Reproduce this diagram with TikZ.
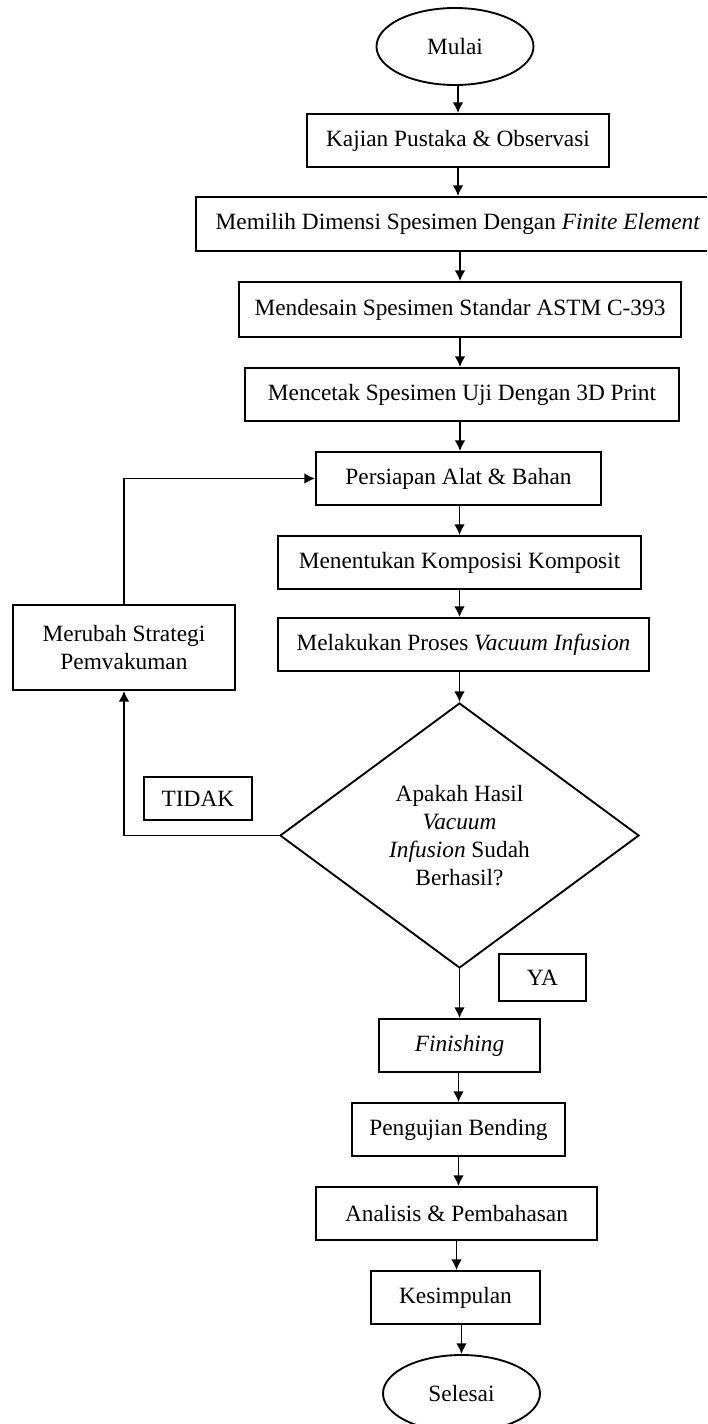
\documentclass[tikz,border=0pt]{standalone}
\usepackage{fontspec}
\setmainfont{Liberation Serif}
\usetikzlibrary{shapes.geometric,arrows.meta}
\begin{document}
\begin{tikzpicture}[x=0.75pt,y=-0.75pt,
  every node/.style={font=\fontsize{17.5}{21}\selectfont, line width=1.4pt, draw, inner sep=0pt, align=center},
  sz/.style 2 args={minimum width=#1*0.75pt, minimum height=#2*0.75pt},
  proc/.style={rectangle},
  term/.style={ellipse},
  dec/.style={diamond, aspect=1.355},
  lbl/.style={rectangle},
  arr/.style={-{Latex[length=8pt,width=8pt]}, line width=1.4pt}]
\useasboundingbox (0,0) rectangle (707,1424);
\clip (0,0) rectangle (707,1424);
\node[term, sz={157}{77}] (mulai) at (455,46.5) {Mulai};
\node[proc, sz={302}{53}] (kaj) at (458,140.5) {Kajian Pustaka \& Observasi};
\node[proc, sz={524}{54}] (mem) at (458,224) {Memilih Dimensi Spesimen Dengan \textit{Finite Element}};
\node[proc, sz={442}{55}] (mend) at (460,309.5) {Mendesain Spesimen Standar ASTM C-393};
\node[proc, sz={434}{53}] (menc) at (462,394.5) {Mencetak Spesimen Uji Dengan 3D Print};
\node[proc, sz={285}{53}] (pers) at (458.5,478.5) {Persiapan Alat \& Bahan};
\node[proc, sz={363}{53}] (ment) at (459.5,562.5) {Menentukan Komposisi Komposit};
\node[proc, sz={371}{53}] (mel) at (463.5,644.5) {Melakukan Proses \textit{Vacuum Infusion}};
\node[dec, sz={359}{265}] (dia) at (459.5,835.5) {Apakah Hasil\\\textit{Vacuum}\\\textit{Infusion} Sudah\\Berhasil?};
\node[proc, sz={222}{85}] (rub) at (124,647.5) {Merubah Strategi\\Pemvakuman};
\node[lbl, sz={108}{43}] (tidak) at (198,798.5) {TIDAK};
\node[lbl, sz={87}{47}] (ya) at (542.5,977.5) {YA};
\node[proc, sz={161}{53}] (fin) at (459.5,1045.5) {\textit{Finishing}};
\node[proc, sz={213}{53}] (peng) at (458.5,1129.5) {Pengujian Bending};
\node[proc, sz={281}{53}] (ana) at (456.5,1213.5) {Analisis \& Pembahasan};
\node[proc, sz={169}{53}] (kes) at (455.5,1297.5) {Kesimpulan};
\node[term, sz={157}{77}] (sel) at (461.5,1393.5) {Selesai};
\draw[arr] (mulai.south -| kaj.north) -- (kaj.north);
\draw[arr] (kaj.south) -- (kaj.south |- mem.north);
\draw[arr] (mem.south -| mend.north) -- (mend.north);
\draw[arr] (mend.south) -- (mend.south |- menc.north);
\draw[arr] (menc.south -| mend.north) -- (mend.north |- pers.north);
\draw[arr] (pers.south -| ment.north) -- (ment.north);
\draw[arr] (ment.south) -- (ment.south |- mel.north);
\draw[arr] (mel.south -| dia.north) -- (dia.north);
\draw[arr] (dia.south) -- (dia.south |- fin.north);
\draw[arr] (fin.south -| peng.north) -- (peng.north);
\draw[arr] (peng.south) -- (peng.south |- ana.north);
\draw[arr] (ana.south) -- (ana.south |- kes.north);
\draw[arr] (kes.south -| sel.north) -- (sel.north);
\draw[arr] (dia.west) -| (rub.south);
\draw[arr] (rub.north) |- (pers.west);
\end{tikzpicture}
\end{document}
